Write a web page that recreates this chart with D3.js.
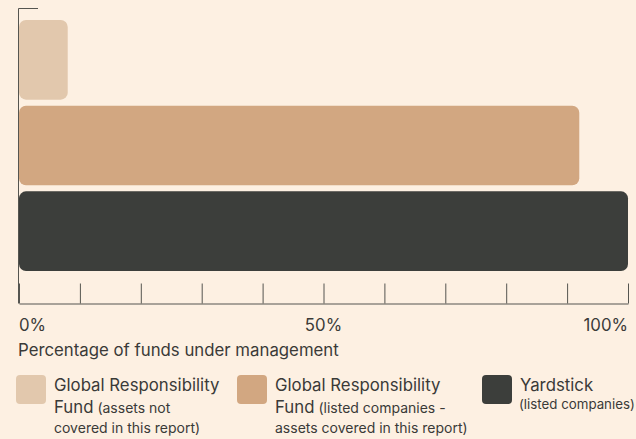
<!DOCTYPE html>
<html>
<head>
<meta charset="utf-8">
<script src="https://cdn.jsdelivr.net/npm/d3@7"></script>
<style>
  html, body { margin: 0; padding: 0; background: #fdf0e2; }
  svg { display: block; font-family: Inter, "Noto Sans", sans-serif; }
</style>
</head>
<body>
<svg id="chart"></svg>
<script>
// data
var categories = ["GRF not covered", "GRF covered", "Yardstick"];
var values = [8, 92, 100];
var colors = ["#e2c8ad", "#d2a781", "#3c3e3b"];
var tickValues = [0, 10, 20, 30, 40, 50, 60, 70, 80, 90, 100];
var tickLabels = {0: "0%", 50: "50%", 100: "100%"};
var axisTitle = "Percentage of funds under management";
var legendItems = [
  {main: ["Global Responsibility", "Fund"], sub: ["(assets not", "covered in this report)"]},
  {main: ["Global Responsibility", "Fund"], sub: ["(listed companies -", "assets covered in this report)"]},
  {main: ["Yardstick"], sub: ["(listed companies)"]}
];

var svgWidth = 636, svgHeight = 439;
var svg = d3.select("#chart")
    .attr("width", svgWidth)
    .attr("height", svgHeight);

var x = d3.scaleLinear().domain([0, 100]).range([19, 628]);
var y = d3.scaleBand().domain(categories).range([20, 271]).paddingInner(0.07);

var axisColor = "#555550";
var textColor = "#3a3a38";
var mainSize = 16.8, subSize = 14;

// bars
svg.selectAll("rect.bar")
  .data(values)
  .enter().append("rect")
  .attr("class", "bar")
  .attr("x", x(0))
  .attr("y", function(d, i) { return y(categories[i]); })
  .attr("width", function(d) { return x(d) - x(0); })
  .attr("height", y.bandwidth())
  .attr("rx", 7)
  .attr("fill", function(d, i) { return colors[i]; });

// left axis line with small cap at top
svg.append("path")
  .attr("d", "M38,8.5H18.5V303.5")
  .attr("fill", "none")
  .attr("stroke", axisColor)
  .attr("stroke-width", 1);

// bottom axis
var xAxis = svg.append("g")
  .attr("transform", "translate(0,303.5)")
  .call(d3.axisBottom(x).tickValues(tickValues).tickSize(-20).tickSizeOuter(0).tickFormat(""));
xAxis.select(".domain").attr("stroke", axisColor);
xAxis.selectAll(".tick line").attr("stroke", axisColor);

svg.selectAll("text.tlab")
  .data(tickValues.filter(function(d) { return tickLabels[d]; }))
  .enter().append("text")
  .attr("class", "tlab")
  .attr("x", function(d) { return x(d); })
  .attr("y", 331)
  .attr("text-anchor", function(d) { return d === 0 ? "start" : d === 100 ? "end" : "middle"; })
  .attr("font-size", mainSize)
  .attr("fill", textColor)
  .text(function(d) { return tickLabels[d]; });

svg.append("text")
  .attr("x", 18)
  .attr("y", 356)
  .attr("font-size", mainSize)
  .attr("fill", textColor)
  .text(axisTitle);

// legend
var legendX = [16, 237, 482];
var lg = svg.selectAll("g.leg")
  .data(legendItems)
  .enter().append("g")
  .attr("class", "leg")
  .attr("transform", function(d, i) { return "translate(" + legendX[i] + ",375)"; });

lg.append("rect")
  .attr("width", 30)
  .attr("height", 29)
  .attr("rx", 4)
  .attr("fill", function(d, i) { return colors[i]; });

lg.each(function(d) {
  var g = d3.select(this);
  var t = g.append("text").attr("fill", textColor).attr("x", 38);
  if (d.main.length === 2) {
    t.append("tspan").attr("x", 38).attr("y", 16).attr("font-size", mainSize).text(d.main[0]);
    t.append("tspan").attr("x", 38).attr("y", 38).attr("font-size", mainSize).text(d.main[1]);
    t.append("tspan").attr("font-size", subSize).text(" " + d.sub[0]);
    t.append("tspan").attr("x", 38).attr("y", 58).attr("font-size", subSize).text(d.sub[1]);
  } else {
    t.append("tspan").attr("x", 38).attr("y", 16).attr("font-size", mainSize).text(d.main[0]);
    // last legend sits at the right edge, keep it inside the page
    t.append("tspan").attr("x", 37).attr("y", 34).attr("font-size", 13.3).text(d.sub[0]);
  }
});
</script>
</body>
</html>
